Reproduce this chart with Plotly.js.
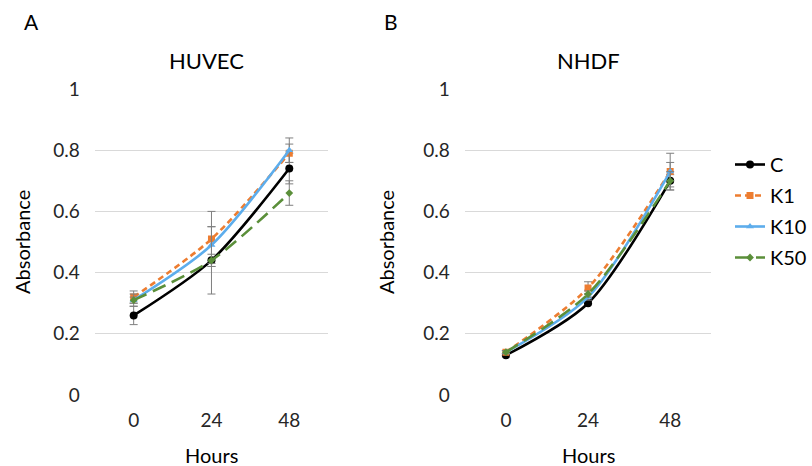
<!DOCTYPE html>
<html><head><meta charset="utf-8">
<script src="https://cdn.plot.ly/plotly-3.0.1.min.js"></script>
<style>html,body{margin:0;padding:0;background:#fff}#chart{width:812px;height:466px}</style>
</head><body><div id="chart"></div>
<script>
const hours = ['0', '24', '48'];
const seriesNames = ['C', 'K1', 'K10', 'K50'];

// Panel A: HUVEC
const huvecC   = [0.26, 0.44, 0.74];
const huvecK1  = [0.32, 0.51, 0.79];
const huvecK10 = [0.31, 0.49, 0.80];
const huvecK50 = [0.31, 0.44, 0.66];
const huvecErrC   = [0.03, 0.02, 0.05];
const huvecErrK1  = [0.02, 0.09, 0.03];
const huvecErrK10 = [0.01, 0.06, 0.04];
const huvecErrK50 = [0.02, 0.11, 0.04];

// Panel B: NHDF
const nhdfC   = [0.13, 0.30, 0.70];
const nhdfK1  = [0.14, 0.35, 0.73];
const nhdfK10 = [0.14, 0.32, 0.73];
const nhdfK50 = [0.14, 0.33, 0.70];
const nhdfErrC   = [0.005, 0.005, 0.02];
const nhdfErrK1  = [0.005, 0.02, 0.03];
const nhdfErrK10 = [0.005, 0.01, 0.06];
const nhdfErrK50 = [0.005, 0.01, 0.03];

const styles = [
  {color: '#000000', dash: 'solid', symbol: 'circle', size: 8},
  {color: '#ED7D31', dash: '6px,4px', symbol: 'square', size: 7},
  {color: '#5DADEC', dash: 'solid', symbol: 'triangle-up', size: 7},
  {color: '#5B8F3A', dash: '14px,7px', symbol: 'diamond', size: 6}
];

const huvec = [huvecC, huvecK1, huvecK10, huvecK50];
const huvecErr = [huvecErrC, huvecErrK1, huvecErrK10, huvecErrK50];
const nhdf = [nhdfC, nhdfK1, nhdfK10, nhdfK50];
const nhdfErr = [nhdfErrC, nhdfErrK1, nhdfErrK10, nhdfErrK50];

function mk(vals, errs, i, xa, ya, showLegend) {
  const s = styles[i];
  return {
    type: 'scatter', mode: 'lines+markers', x: hours, y: vals,
    xaxis: xa, yaxis: ya, name: seriesNames[i], legendgroup: seriesNames[i],
    showlegend: showLegend,
    line: {color: s.color, width: 2.6, dash: s.dash, shape: 'spline', smoothing: 0.8},
    marker: {color: s.color, symbol: s.symbol, size: s.size},
    error_y: {type: 'data', array: errs, visible: true, color: '#7f7f7f', thickness: 1, width: 4}
  };
}

const traces = [];
for (let i = 0; i < 4; i++) traces.push(mk(huvec[i], huvecErr[i], i, 'x', 'y', true));
for (let i = 0; i < 4; i++) traces.push(mk(nhdf[i], nhdfErr[i], i, 'x2', 'y2', false));

const font = 'Lato, "Open Sans", "Noto Sans", sans-serif';
const yax = (anchor) => ({
  range: [0, 1], tickvals: [0, 0.2, 0.4, 0.6, 0.8, 1], ticktext: ['0', '0.2', '0.4', '0.6', '0.8', '1'],
  showgrid: true, gridcolor: '#d9d9d9', gridwidth: 1, zeroline: false, showline: false,
  ticks: '', ticklabelstandoff: 14, tickfont: {size: 19, color: '#262626', family: font},
  domain: [71/466, 377/466], anchor: anchor, fixedrange: true
});
const xax = (dom, anchor) => ({
  type: 'category', range: [-0.5, 2.5], domain: dom, anchor: anchor,
  showgrid: false, zeroline: false, showline: false, ticks: '', ticklabelstandoff: 12,
  tickfont: {size: 19, color: '#262626', family: font}, fixedrange: true
});

const ann = (text, x, y, size, opts) => Object.assign({
  text: text, x: x, y: y, xref: 'paper', yref: 'paper', showarrow: false,
  font: {size: size, color: '#000', family: font}, xanchor: 'center', yanchor: 'middle'
}, opts || {});

const layout = {
  width: 812, height: 466,
  margin: {l: 0, r: 0, t: 0, b: 0},
  paper_bgcolor: '#fff', plot_bgcolor: '#fff',
  font: {family: font},
  showlegend: true,
  legend: {
    x: 732/812, y: 1 - 145/466, xanchor: 'left', yanchor: 'top',
    font: {size: 20, color: '#000', family: font},
    traceorder: 'grouped', tracegroupgap: 2, itemwidth: 30,
    bgcolor: 'rgba(0,0,0,0)'
  },
  xaxis: xax([95/812, 329/812], 'y'),
  yaxis: yax('x'),
  xaxis2: xax([466/812, 713/812], 'y2'),
  yaxis2: yax('x2'),
  annotations: [
    ann('A', 32/812, 1 - 21/466, 21),
    ann('B', 392/812, 1 - 21/466, 21),
    ann('HUVEC', 207/812, 1 - 61/466, 22),
    ann('NHDF', 590/812, 1 - 61/466, 22),
    ann('Hours', 212/812, 1 - 455/466, 20),
    ann('Hours', 590/812, 1 - 455/466, 20),
    ann('Absorbance', 22/812, 1 - 242/466, 20, {textangle: -90}),
    ann('Absorbance', 387/812, 1 - 242/466, 20, {textangle: -90})
  ]
};

Plotly.newPlot('chart', traces, layout, {displayModeBar: false, staticPlot: true});
</script>
</body></html>
